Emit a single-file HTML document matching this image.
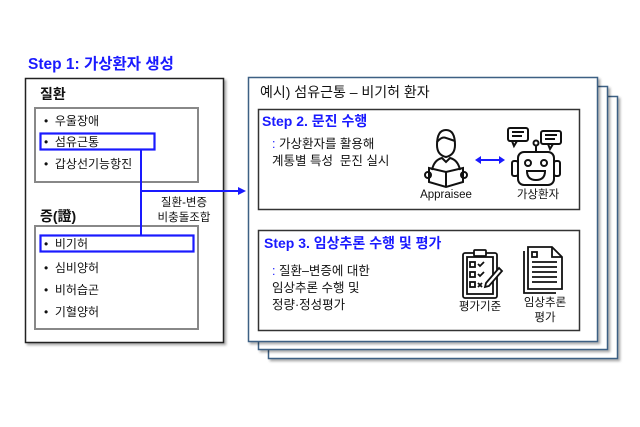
<!DOCTYPE html>
<html><head><meta charset="utf-8"><style>
html,body{margin:0;padding:0;background:#fff;}
svg{display:block;}
text{font-family:"Liberation Sans","Noto Sans CJK KR",sans-serif;}
</style></head><body>
<svg width="640" height="427" viewBox="0 0 640 427" xmlns="http://www.w3.org/2000/svg">
<defs>
<filter id="sh" x="-5%" y="-5%" width="115%" height="115%"><feDropShadow dx="2" dy="2" stdDeviation="1.2" flood-color="#000" flood-opacity="0.35"/></filter>
</defs>
<text x="28" y="69" font-size="15.5" font-weight="bold" fill="#1a1aff">Step 1: 가상환자 생성</text>
<rect x="25.5" y="78.5" width="198" height="264" fill="#fff" stroke="#222" stroke-width="1.5" filter="url(#sh)"/>
<text x="40" y="99" font-size="14" font-weight="bold" fill="#111">질환</text>
<rect x="35" y="108" width="163" height="74" fill="none" stroke="#888" stroke-width="2"/>
<g font-size="12" fill="#111">
<text x="44" y="125">•&#160;&#160;우울장애</text>
<text x="44" y="146">•&#160;&#160;섬유근통</text>
<text x="44" y="168">•&#160;&#160;갑상선기능항진</text>
</g>
<rect x="40.5" y="133.5" width="114" height="16" fill="none" stroke="#1a1aff" stroke-width="2.2"/>
<text x="40" y="221" font-size="14" font-weight="bold" fill="#111">증(證)</text>
<rect x="35" y="226" width="163" height="103" fill="none" stroke="#888" stroke-width="2"/>
<g font-size="12" fill="#111">
<text x="44" y="248">•&#160;&#160;비기허</text>
<text x="44" y="272">•&#160;&#160;심비양허</text>
<text x="44" y="294">•&#160;&#160;비허습곤</text>
<text x="44" y="316">•&#160;&#160;기혈양허</text>
</g>
<rect x="40.5" y="235.5" width="153" height="16" fill="none" stroke="#1a1aff" stroke-width="2.2"/>
<line x1="141" y1="150" x2="141" y2="235" stroke="#1a1aff" stroke-width="2"/>
<line x1="141" y1="191" x2="240" y2="191" stroke="#1a1aff" stroke-width="2"/>
<polygon points="246,191 238,187 238,195" fill="#1a1aff"/>
<text x="184" y="206" font-size="11.5" fill="#111" text-anchor="middle">질환-변증</text>
<text x="184" y="221" font-size="11.5" fill="#111" text-anchor="middle">비충돌조합</text>

<rect x="268.5" y="96.5" width="349" height="262" fill="#fff" stroke="#3d6184" stroke-width="1.5" filter="url(#sh)"/>
<rect x="258.5" y="86.5" width="349" height="263" fill="#fff" stroke="#3d6184" stroke-width="1.5" filter="url(#sh)"/>
<rect x="248.5" y="77.5" width="349" height="264" fill="#fff" stroke="#3d6184" stroke-width="1.5" filter="url(#sh)"/>
<text x="260" y="97" font-size="14" fill="#111">예시) 섬유근통 – 비기허 환자</text>
<rect x="258.5" y="109.5" width="321" height="100" fill="none" stroke="#333" stroke-width="1.5"/>
<text x="262" y="126" font-size="14" font-weight="bold" fill="#1a1aff">Step 2. 문진 수행</text>
<text x="272" y="148" font-size="12.5" fill="#111"><tspan fill="#1a1aff">:</tspan> 가상환자를 활용해</text>
<text x="272" y="165" font-size="12.5" fill="#111">계통별 특성&#160; 문진 실시</text>
<!-- person -->
<g fill="none" stroke="#111" stroke-width="2">
<path d="M437 145 q0 -15 9 -15 q9 0 9 15 q0 10 -9 12 q-9 -2 -9 -12z"/>
<path d="M437 142 q5 -6 9 -4 q6 2 9 3"/>
<path d="M432 170 q2 -10 10 -12 l4 4 l4 -4 q8 2 10 12"/>
<path d="M429 168 l17 4 l17 -4 l0 14 l-17 5 l-17 -5z"/>
<line x1="446" y1="172" x2="446" y2="187"/>
<circle cx="428" cy="175" r="3"/><circle cx="464" cy="175" r="3"/>
</g>
<text x="446" y="198" font-size="11.5" fill="#111" text-anchor="middle">Appraisee</text>
<line x1="480" y1="160" x2="500" y2="160" stroke="#1a1aff" stroke-width="2"/>
<polygon points="475,160 481,156 481,164" fill="#1a1aff"/>
<polygon points="505,160 499,156 499,164" fill="#1a1aff"/>
<!-- robot -->
<g fill="none" stroke="#111" stroke-width="2">
<rect x="508" y="128" width="20" height="13" rx="2"/><path d="M512 141 l2 5 l3 -5"/>
<line x1="512" y1="132" x2="524" y2="132"/><line x1="512" y1="136" x2="522" y2="136"/>
<rect x="541" y="131" width="20" height="13" rx="2"/><path d="M548 144 l2 5 l3 -5"/>
<line x1="545" y1="135" x2="557" y2="135"/><line x1="545" y1="139" x2="555" y2="139"/>
<circle cx="536" cy="143" r="2.5"/><line x1="536" y1="146" x2="536" y2="152"/>
<rect x="518" y="152" width="36" height="33" rx="6"/>
<rect x="512" y="161" width="6" height="15" rx="2"/><rect x="554" y="161" width="6" height="15" rx="2"/>
<circle cx="528" cy="163" r="3"/><circle cx="544" cy="163" r="3"/>
<path d="M527 171 h18 q0 9 -9 9 q-9 0 -9 -9z"/>
</g>
<text x="538" y="198" font-size="11.5" fill="#111" text-anchor="middle">가상환자</text>

<rect x="258.5" y="230.5" width="321" height="100" fill="none" stroke="#333" stroke-width="1.5"/>
<text x="264" y="248" font-size="14" font-weight="bold" fill="#1a1aff">Step 3. 임상추론 수행 및 평가</text>
<text x="272" y="275" font-size="12.5" fill="#111"><tspan fill="#1a1aff">:</tspan> 질환–변증에 대한</text>
<text x="272" y="292" font-size="12.5" fill="#111">임상추론 수행 및</text>
<text x="272" y="309" font-size="12.5" fill="#111">정량·정성평가</text>
<!-- clipboard -->
<g fill="none" stroke="#111" stroke-width="1.8">
<rect x="463" y="253" width="34" height="45" rx="2"/>
<rect x="467" y="257" width="26" height="37"/>
<rect x="474" y="250" width="12" height="6" rx="1" fill="#fff"/>
<rect x="470" y="262" width="5" height="5"/><rect x="470" y="272" width="5" height="5"/><rect x="470" y="282" width="5" height="5"/>
<path d="M478 264 l2 2 l4 -4"/><path d="M478 274 l2 2 l4 -4"/><path d="M478 283 l4 4 M482 283 l-4 4"/>
<path d="M486 283 l13 -15 l3 3 l-13 15 l-4 1z" fill="#fff"/>
</g>
<text x="480" y="310" font-size="11.5" fill="#111" text-anchor="middle">평가기준</text>
<!-- document -->
<g fill="none" stroke="#111" stroke-width="1.8">
<path d="M524 251 v42 h32"/>
<path d="M528 247 h24 l10 10 v32 h-34z" fill="#fff"/>
<path d="M552 247 v10 h10"/>
<rect x="532" y="252" width="5" height="5"/>
<line x1="532" y1="262" x2="557" y2="262"/><line x1="532" y1="267" x2="557" y2="267"/><line x1="532" y1="272" x2="557" y2="272"/><line x1="532" y1="277" x2="557" y2="277"/><line x1="532" y1="282" x2="557" y2="282"/>
</g>
<text x="545" y="306" font-size="11.5" fill="#111" text-anchor="middle">임상추론</text>
<text x="545" y="321" font-size="11.5" fill="#111" text-anchor="middle">평가</text>
</svg>
</body></html>
